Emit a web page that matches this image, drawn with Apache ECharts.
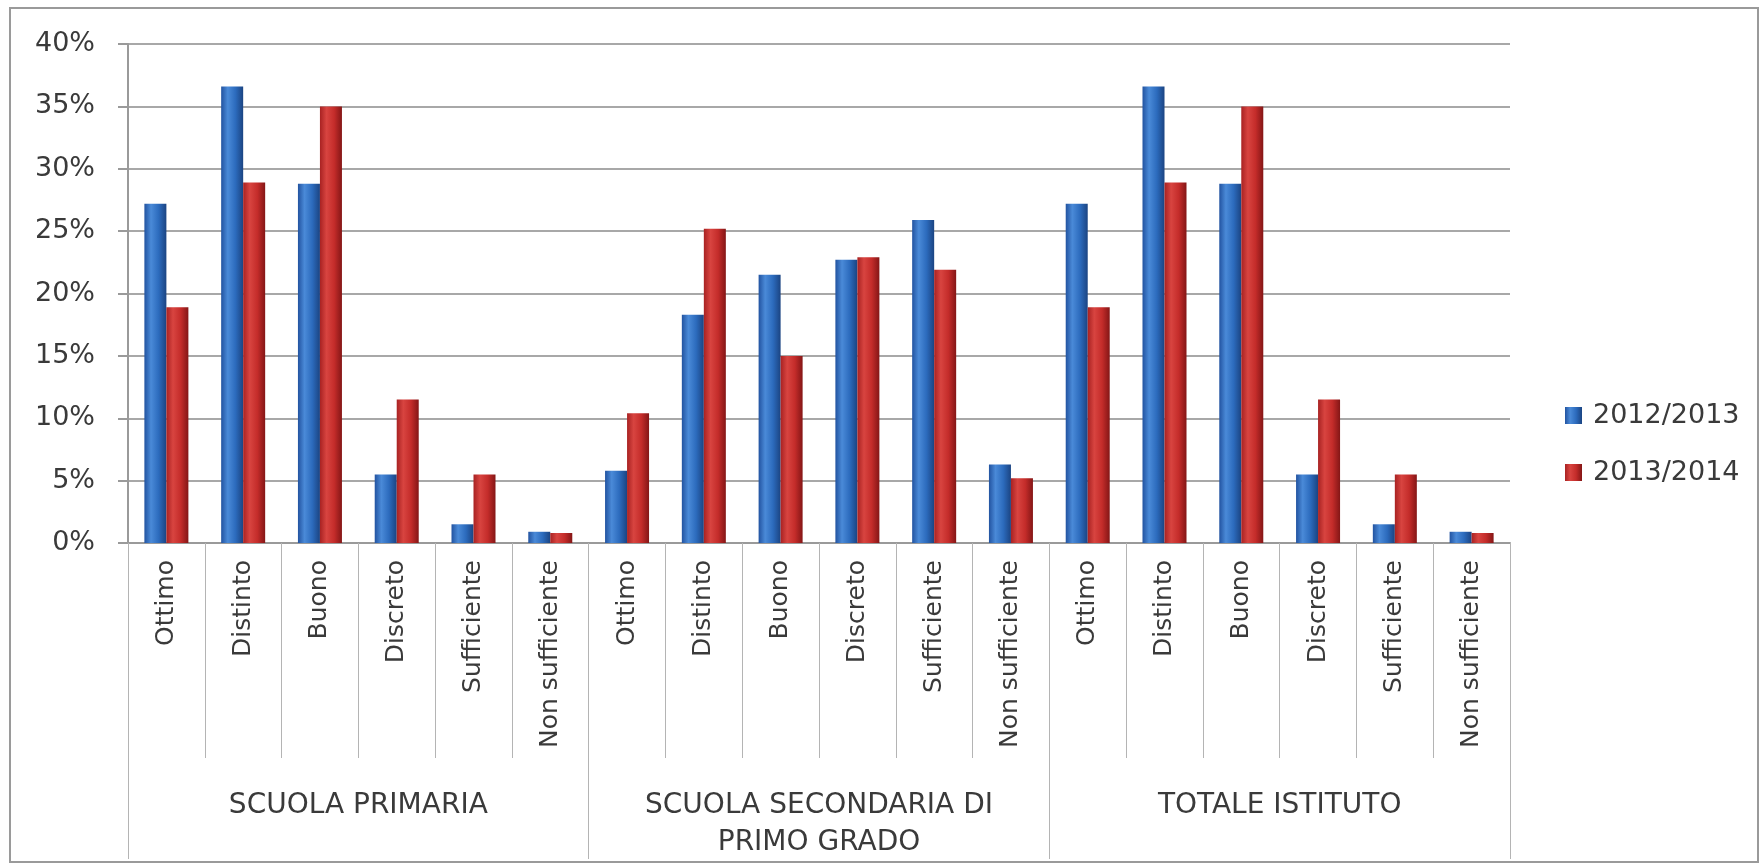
<!DOCTYPE html>
<html>
<head>
<meta charset="utf-8">
<script src="https://cdn.jsdelivr.net/npm/echarts@6/dist/echarts.min.js"></script>
<style>
html,body{margin:0;padding:0;background:#fff;}
#chart{width:1762px;height:866px;}
</style>
</head>
<body>
<div id="chart"></div>
<script>
const groups = ['SCUOLA PRIMARIA', 'SCUOLA SECONDARIA DI\nPRIMO GRADO', 'TOTALE ISTITUTO'];
const levels = ['Ottimo', 'Distinto', 'Buono', 'Discreto', 'Sufficiente', 'Non sufficiente'];
const seriesNames = ['2012/2013', '2013/2014'];
const yTicks = [0, 5, 10, 15, 20, 25, 30, 35, 40];

const primaria2012 = [27.2, 36.6, 28.8, 5.5, 1.5, 0.9];
const primaria2013 = [18.9, 28.9, 35.0, 11.5, 5.5, 0.8];
const secondaria2012 = [5.8, 18.3, 21.5, 22.7, 25.9, 6.3];
const secondaria2013 = [10.4, 25.2, 15.0, 22.9, 21.9, 5.2];
const totale2012 = [27.2, 36.6, 28.8, 5.5, 1.5, 0.9];
const totale2013 = [18.9, 28.9, 35.0, 11.5, 5.5, 0.8];

const categories = [].concat(levels, levels, levels);
const data2012 = [].concat(primaria2012, secondaria2012, totale2012);
const data2013 = [].concat(primaria2013, secondaria2013, totale2013);

const FONT = 'DejaVu Sans';
const TXT = '#3a3a3a';

const blueGrad = new echarts.graphic.LinearGradient(0, 0, 1, 0, [
  {offset: 0, color: '#2253a0'},
  {offset: 0.3, color: '#4a8ad8'},
  {offset: 0.65, color: '#2c6bbd'},
  {offset: 1, color: '#1b4482'}
]);
const redGrad = new echarts.graphic.LinearGradient(0, 0, 1, 0, [
  {offset: 0, color: '#a82222'},
  {offset: 0.3, color: '#d84440'},
  {offset: 0.65, color: '#c42c2a'},
  {offset: 1, color: '#841616'}
]);

const chart = echarts.init(document.getElementById('chart'), null, {renderer: 'canvas'});
chart.setOption({
  backgroundColor: '#ffffff',
  animation: false,
  graphic: [{
    type: 'rect',
    shape: {x: 10, y: 8, width: 1748, height: 854},
    style: {fill: 'none', stroke: '#9a9a9a', lineWidth: 2},
    silent: true
  }],
  grid: {left: 128, right: 252, top: 44, bottom: 323, containLabel: false},
  legend: {
    orient: 'vertical',
    left: 1560,
    top: 397,
    itemWidth: 17,
    itemHeight: 17,
    itemGap: 30,
    icon: 'rect',
    textStyle: {fontFamily: FONT, fontSize: 27, color: TXT, padding: [0, 0, 0, 6]},
    data: seriesNames
  },
  xAxis: [{
    type: 'category',
    data: categories,
    position: 'bottom',
    axisLine: {show: true, lineStyle: {color: '#9a9a9a', width: 2}},
    axisTick: {show: true, interval: 0, length: 215, lineStyle: {color: '#b4b4b4', width: 1}},
    axisLabel: {
      interval: 0, rotate: 90, margin: 17,
      fontFamily: FONT, fontSize: 25, color: TXT
    },
    splitLine: {show: false}
  }, {
    type: 'category',
    data: groups,
    position: 'bottom',
    axisLine: {show: false},
    axisTick: {show: true, interval: 0, length: 316, lineStyle: {color: '#b4b4b4', width: 1}},
    axisLabel: {
      interval: 0, margin: 244,
      fontFamily: FONT, fontSize: 28, color: TXT, lineHeight: 37
    },
    splitLine: {show: false}
  }],
  yAxis: {
    type: 'value',
    min: yTicks[0],
    max: yTicks[yTicks.length - 1],
    interval: 5,
    axisLine: {show: true, lineStyle: {color: '#9a9a9a', width: 2}},
    axisTick: {show: true, length: 10, lineStyle: {color: '#9a9a9a', width: 2}},
    axisLabel: {
      margin: 33, fontFamily: FONT, fontSize: 27, color: TXT,
      formatter: '{value}%'
    },
    splitLine: {show: true, lineStyle: {color: '#a8a8a8', width: 2}}
  },
  series: [{
    name: seriesNames[0],
    type: 'bar',
    xAxisIndex: 0,
    data: data2012,
    barWidth: 22,
    barGap: '0%',
    itemStyle: {color: blueGrad}
  }, {
    name: seriesNames[1],
    type: 'bar',
    xAxisIndex: 0,
    data: data2013,
    barWidth: 22,
    barGap: '0%',
    itemStyle: {color: redGrad}
  }]
});
</script>
</body>
</html>
